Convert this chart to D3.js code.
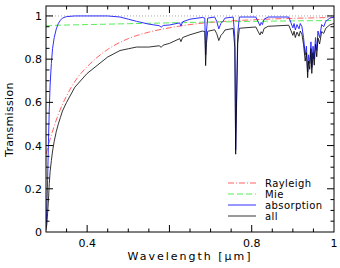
<!DOCTYPE html>
<html lang="en">
<head>
    <meta charset="UTF-8">
    <title>Atmospheric transmission</title>
    <script type="text/javascript" src="https://cdn.jsdelivr.net/npm/d3@7/dist/d3.min.js"></script>
    <style>
        body { margin: 0; background: #fff; }
        text { font-family: "DejaVu Sans", sans-serif; fill: #000; }
    </style>
</head>
<body>
<script type="text/javascript">
    var w = 340;
    var h = 268;
    var margin = {top: 6, right: 6, bottom: 36, left: 46};

    // smooth curves: wavelength (micron) and transmission
    var smoothWl = [0.30, 0.31, 0.32, 0.33, 0.35, 0.375, 0.40, 0.45, 0.50, 0.55, 0.60, 0.65, 0.70, 0.75, 0.80, 0.85, 0.90, 0.95, 1.00];
    var rayleigh = [0.36, 0.43, 0.49, 0.545, 0.63, 0.71, 0.765, 0.845, 0.895, 0.925, 0.945, 0.96, 0.97, 0.977, 0.982, 0.986, 0.989, 0.991, 0.993];
    var mie = [0.954, 0.955, 0.956, 0.957, 0.958, 0.959, 0.960, 0.962, 0.964, 0.966, 0.968, 0.970, 0.972, 0.973, 0.975, 0.976, 0.977, 0.978, 0.979];

    // line absorption + total, on a finer wavelength grid
    var lineWl = [0.300, 0.302, 0.304, 0.306, 0.308, 0.310, 0.313, 0.316, 0.320, 0.325, 0.330, 0.335, 0.340, 0.350, 0.370, 0.400,
        0.450, 0.480, 0.500, 0.520, 0.550, 0.575, 0.580, 0.585, 0.600, 0.625, 0.628, 0.632, 0.650, 0.680, 0.686, 0.688,
        0.690, 0.693, 0.710, 0.715, 0.720, 0.725, 0.730, 0.735, 0.755, 0.759, 0.761, 0.763, 0.766, 0.770, 0.810, 0.815,
        0.820, 0.823, 0.826, 0.830, 0.840, 0.890, 0.895, 0.900, 0.903, 0.906, 0.910, 0.915, 0.918, 0.922, 0.926, 0.930,
        0.933, 0.936, 0.938, 0.941, 0.944, 0.946, 0.949, 0.952, 0.955, 0.958, 0.961, 0.965, 0.970, 0.975, 0.980, 0.990, 1.000];
    var absorption = [0.03, 0.10, 0.25, 0.42, 0.57, 0.68, 0.78, 0.85, 0.90, 0.94, 0.965, 0.98, 0.99, 0.997, 1.0, 1.0,
        1.0, 0.995, 0.985, 0.975, 0.962, 0.955, 0.948, 0.956, 0.958, 0.968, 0.953, 0.973, 0.985, 0.993, 0.99, 0.82,
        0.93, 0.99, 0.995, 0.975, 0.94, 0.965, 0.975, 0.99, 0.995, 0.90, 0.38, 0.60, 0.92, 0.995, 0.995, 0.975,
        0.955, 0.97, 0.96, 0.985, 0.995, 0.995, 0.97, 0.945, 0.965, 0.935, 0.96, 0.94, 0.965, 0.95, 0.90, 0.82,
        0.86, 0.74, 0.82, 0.78, 0.88, 0.76, 0.86, 0.80, 0.90, 0.84, 0.93, 0.90, 0.96, 0.95, 0.975, 0.99, 0.995];
    var all = [0.01, 0.035, 0.088, 0.15, 0.225, 0.28, 0.33, 0.375, 0.42, 0.465, 0.50, 0.53, 0.56, 0.60, 0.67, 0.734,
        0.81, 0.84, 0.848, 0.856, 0.856, 0.862, 0.855, 0.865, 0.873, 0.895, 0.881, 0.90, 0.913, 0.93, 0.928, 0.77,
        0.872, 0.929, 0.936, 0.918, 0.886, 0.91, 0.92, 0.935, 0.942, 0.853, 0.36, 0.57, 0.872, 0.943, 0.949, 0.93,
        0.912, 0.927, 0.918, 0.942, 0.952, 0.957, 0.934, 0.91, 0.929, 0.90, 0.925, 0.906, 0.93, 0.916, 0.868, 0.791,
        0.83, 0.714, 0.791, 0.753, 0.849, 0.734, 0.83, 0.772, 0.869, 0.811, 0.898, 0.87, 0.928, 0.919, 0.943, 0.959, 0.965];

    var xTickLabels = [0.4, 0.8, 1.0];
    var yTickLabels = [0, 0.2, 0.4, 0.6, 0.8, 1.0];
    var legendNames = ["Rayleigh", "Mie", "absorption", "all"];

    var svg = d3.select("body")
        .append("svg")
        .attr("width", w)
        .attr("height", h);

    var x = d3.scaleLinear()
        .domain([0.3, 1.0])
        .range([margin.left, w - margin.right]);

    var y = d3.scaleLinear()
        .domain([0, 1.046])
        .range([h - margin.bottom, margin.top]);

    svg.append("clipPath").attr("id", "plot")
        .append("rect")
        .attr("x", x(0.3)).attr("y", y(1.046))
        .attr("width", x(1.0) - x(0.3)).attr("height", y(0) - y(1.046));

    var g = svg.append("g").attr("clip-path", "url(#plot)");

    function pairs(xs, ys) {
        return xs.map(function (d, i) { return [d, ys[i]]; });
    }

    var smoothLine = d3.line()
        .x(function (d) { return x(d[0]); })
        .y(function (d) { return y(d[1]); })
        .curve(d3.curveMonotoneX);

    var sharpLine = d3.line()
        .x(function (d) { return x(d[0]); })
        .y(function (d) { return y(d[1]); });

    // unity reference
    g.append("line")
        .attr("x1", x(0.3)).attr("x2", x(1.0))
        .attr("y1", y(1)).attr("y2", y(1))
        .attr("stroke", "#aaa")
        .attr("stroke-width", 1)
        .attr("stroke-dasharray", "1,2");

    var styles = [
        {color: "#ff5050", dash: "6,2,1,2", width: 0.9},
        {color: "#55ee55", dash: "6,3", width: 1},
        {color: "#2f2fff", dash: null, width: 1},
        {color: "#000", dash: null, width: 0.8}
    ];

    var series = [
        {path: smoothLine(pairs(smoothWl, rayleigh))},
        {path: smoothLine(pairs(smoothWl, mie))},
        {path: sharpLine(pairs(lineWl, absorption))},
        {path: sharpLine(pairs(lineWl, all))}
    ];

    g.selectAll("path.series")
        .data(series).enter()
        .append("path")
        .attr("class", "series")
        .attr("d", function (d) { return d.path; })
        .attr("fill", "none")
        .attr("stroke", function (d, i) { return styles[i].color; })
        .attr("stroke-width", function (d, i) { return styles[i].width; })
        .attr("stroke-dasharray", function (d, i) { return styles[i].dash; })
        .attr("stroke-linejoin", "round");

    // frame
    svg.append("rect")
        .attr("x", x(0.3)).attr("y", y(1.046))
        .attr("width", x(1.0) - x(0.3)).attr("height", y(0) - y(1.046))
        .attr("fill", "none")
        .attr("stroke", "#000")
        .attr("stroke-width", 1);

    // ticks on all four sides, pointing inward
    var xMinor = d3.range(0.35, 1.0, 0.05);
    var yMinor = d3.range(0.05, 1.046, 0.05);
    function isMajor(v) { return Math.abs(v / 0.2 - Math.round(v / 0.2)) < 1e-6; }

    var ticks = svg.append("g").attr("stroke", "#000").attr("stroke-width", 1);
    xMinor.forEach(function (v) {
        var len = isMajor(v) ? 7 : 3.5;
        ticks.append("line").attr("x1", x(v)).attr("x2", x(v))
            .attr("y1", y(0)).attr("y2", y(0) - len);
        ticks.append("line").attr("x1", x(v)).attr("x2", x(v))
            .attr("y1", y(1.046)).attr("y2", y(1.046) + len);
    });
    yMinor.forEach(function (v) {
        var len = isMajor(v) ? 7 : 3.5;
        ticks.append("line").attr("y1", y(v)).attr("y2", y(v))
            .attr("x1", x(0.3)).attr("x2", x(0.3) + len);
        ticks.append("line").attr("y1", y(v)).attr("y2", y(v))
            .attr("x1", x(1.0)).attr("x2", x(1.0) - len);
    });

    svg.selectAll("text.xt")
        .data(xTickLabels).enter()
        .append("text")
        .attr("class", "xt")
        .attr("x", function (d) { return x(d); })
        .attr("y", y(0) + 15)
        .attr("text-anchor", "middle")
        .attr("font-size", "11px")
        .text(function (d) { return d3.format("~g")(d); });

    svg.selectAll("text.yt")
        .data(yTickLabels).enter()
        .append("text")
        .attr("class", "yt")
        .attr("x", x(0.3) - 4)
        .attr("y", function (d) { return y(d) + 4; })
        .attr("text-anchor", "end")
        .attr("font-size", "11px")
        .text(function (d) { return d3.format("~g")(d); });

    svg.append("text")
        .attr("x", (x(0.3) + x(1.0)) / 2)
        .attr("y", h - 8)
        .attr("text-anchor", "middle")
        .attr("font-size", "11px")
        .attr("letter-spacing", "2px")
        .text("Wavelength [\u03bcm]");

    svg.append("text")
        .attr("transform", "translate(13," + y(0.52) + ") rotate(-90)")
        .attr("text-anchor", "middle")
        .attr("font-size", "11px")
        .attr("letter-spacing", "0.3px")
        .text("Transmission");

    // legend
    var legend = svg.append("g").attr("transform", "translate(228,183)");
    var rows = legend.selectAll("g")
        .data(legendNames).enter()
        .append("g")
        .attr("transform", function (d, i) { return "translate(0," + (i * 11) + ")"; });
    rows.append("line")
        .attr("x1", 0).attr("x2", 28)
        .attr("stroke", function (d, i) { return styles[i].color; })
        .attr("stroke-width", function (d, i) { return styles[i].width; })
        .attr("stroke-dasharray", function (d, i) { return styles[i].dash; });
    rows.append("text")
        .attr("x", 37)
        .attr("y", 3.5)
        .attr("font-size", "10px")
        .attr("letter-spacing", "0.4px")
        .text(function (d) { return d; });
</script>
</body>
</html>
